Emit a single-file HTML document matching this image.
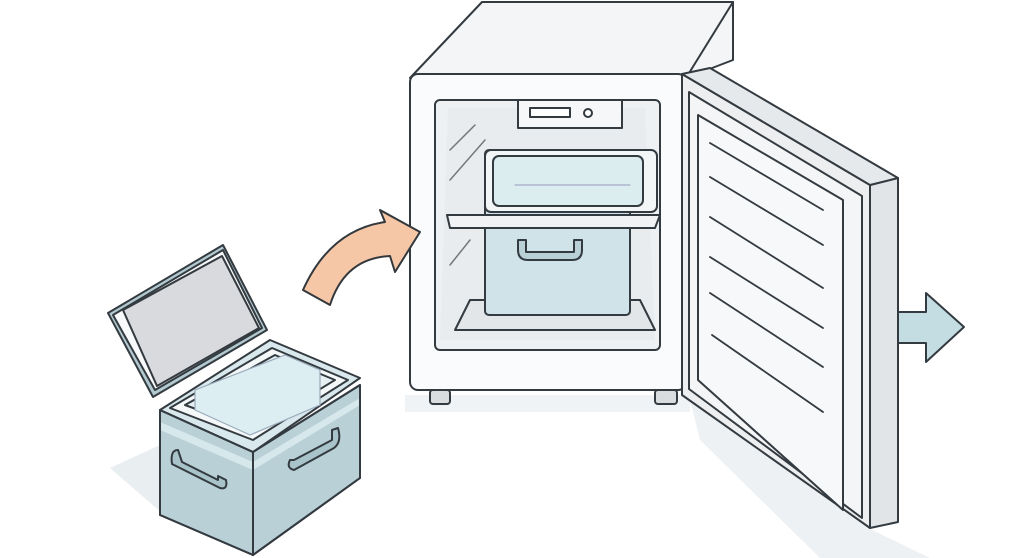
<!DOCTYPE html><html><head><style>html,body{margin:0;padding:0;background:#fff}svg{display:block}</style></head><body>
<svg width="1010" height="558" viewBox="0 0 1010 558" xmlns="http://www.w3.org/2000/svg" stroke="#333a40" stroke-width="2" stroke-linejoin="round" stroke-linecap="round">
<!-- shadows -->
<polygon points="690,400 868,528 930,558 820,558 700,440" fill="#eef1f3" stroke="none"/>
<polygon points="405,395 690,395 690,412 405,412" fill="#f0f3f5" stroke="none"/>
<polygon points="160,445 110,468 170,520 160,515" fill="#e9eef0" stroke="none"/>
<!-- freezer top -->
<polygon points="410,78 482,2 733,2 733,60 686,78" fill="#f4f5f7"/>
<line x1="733" y1="2" x2="686" y2="78"/>
<!-- freezer front -->
<rect x="410" y="74" width="276" height="316" rx="8" fill="#fafbfc"/>
<rect x="435" y="100" width="225" height="250" rx="5" fill="#eef1f3"/>
<polygon points="448,108 645,108 655,340 440,340" fill="#e8ecee" stroke="none"/>
<line x1="450" y1="150" x2="475" y2="125" stroke="#777" stroke-width="1.5"/>
<line x1="450" y1="180" x2="485" y2="140" stroke="#777" stroke-width="1.5"/>
<line x1="450" y1="265" x2="470" y2="240" stroke="#777" stroke-width="1.5"/>
<!-- control panel -->
<rect x="518" y="100" width="104" height="28" fill="#f6f7f8"/>
<rect x="530" y="108" width="40" height="9" fill="#fff"/>
<circle cx="588" cy="113" r="4" fill="#fff"/>
<!-- lower shelf -->
<polygon points="470,300 640,300 655,330 455,330" fill="#e2e6e9"/>
<!-- container -->
<rect x="485" y="150" width="145" height="165" rx="4" fill="#cfe3e8"/>
<polygon points="447,215 660,215 655,228 450,228" fill="#f0f2f4"/>
<rect x="485" y="150" width="172" height="62" rx="6" fill="#f3f6f7"/>
<rect x="493" y="156" width="150" height="50" rx="6" fill="#dcedf0"/>
<line x1="515" y1="185" x2="630" y2="185" stroke="#99b" stroke-width="1"/>
<path d="M518,240 v10 q0,10 10,10 h44 q10,0 10,-10 v-10 h-8 v12 h-48 v-12 z" fill="#b9d0d6"/>
<!-- feet -->
<rect x="430" y="390" width="20" height="14" rx="3" fill="#d9dde0"/>
<rect x="655" y="390" width="22" height="14" rx="3" fill="#d9dde0"/>
<!-- door -->
<polygon points="870,185 898,178 898,522 870,528" fill="#e2e5e8"/>
<polygon points="682,74 870,185 870,528 682,395" fill="#eceef0"/>
<polygon points="682,74 710,68 898,178 870,185" fill="#e6e9ec"/>
<polygon points="689,92 862,196 862,518 689,389" fill="#f4f5f6"/>
<polygon points="698,115 843,200 843,510 698,380" fill="#f7f8f9"/>
<g stroke-width="1.8">
<line x1="710" y1="143" x2="823" y2="210"/><line x1="710" y1="177" x2="823" y2="245"/>
<line x1="710" y1="217" x2="823" y2="288"/><line x1="710" y1="257" x2="823" y2="328"/>
<line x1="710" y1="293" x2="823" y2="367"/><line x1="712" y1="335" x2="823" y2="412"/>
</g>
<!-- blue arrow -->
<polygon points="898,312 926,312 926,293 964,327 926,362 926,343 898,343" fill="#c3dde3"/>
<!-- orange arrow -->
<path d="M303,290 Q330,230 385,222 L380,210 L420,232 L395,272 L390,256 Q345,258 330,305 Z" fill="#f6c7a7" stroke="#33383d"/>
<!-- cooler lid -->
<polygon points="108,313 223,245 267,330 153,397" fill="#b2c9cf"/>
<polygon points="113,315 223,250 262,328 155,390" fill="#f7f9fa"/>
<polygon points="123,310 222,256 259,328 157,386" fill="#d8dadd"/>
<!-- cooler body -->
<polygon points="160,410 253,452 253,555 160,515" fill="#b8d0d6"/>
<polygon points="253,452 360,385 360,478 253,555" fill="#b8d0d6"/>
<polygon points="160,410 270,340 360,378 253,452" fill="#d8e8ec"/>
<polygon points="170,408 272,348 348,380 253,440" fill="#f5f8f9"/>
<polygon points="185,405 275,355 335,380 253,430" fill="#e6f0f2"/>
<polygon points="195,390 285,355 320,370 320,405 250,435 195,410" fill="#dceef1" stroke="#9ab" stroke-width="1.2"/>
<line x1="253" y1="470" x2="253" y2="550"/>
<polygon points="160,430 253,470 360,405 360,398 253,462 160,422" fill="#d7e8ec" stroke="none"/>
<path d="M178,450 q-8,0 -6,14 l8,4 l40,20 q8,2 6,-8 l-8,-4 l0,4 l-36,-18 z" fill="#a9c3ca"/>
<path d="M290,460 q-4,8 4,10 l40,-22 q8,-6 4,-20 l-6,2 l0,10 l-38,20 z" fill="#a9c3ca"/>
<polygon points="160,410 253,452 253,555 160,515" fill="none"/>
<polygon points="253,452 360,385 360,478 253,555" fill="none"/>
</svg>
</body></html>
